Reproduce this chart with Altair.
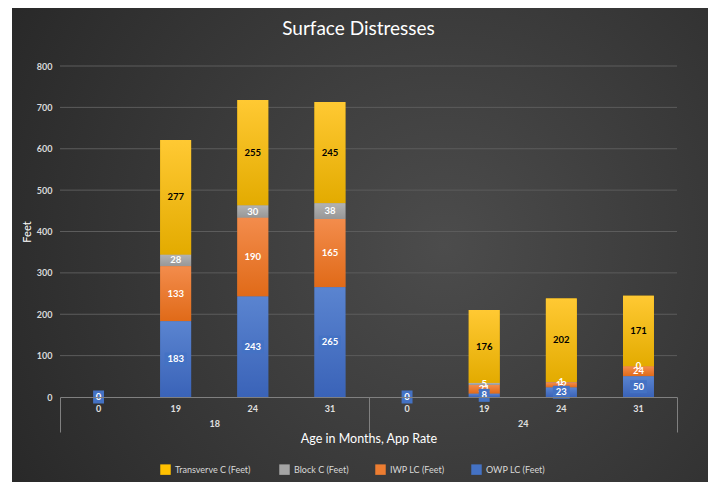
import altair as alt
import pandas as pd

ages = ["0", "19", "24", "31"]
rates = ["18", "24"]
series = ["Transverve  C (Feet)", "Block C (Feet)", "IWP LC (Feet)", "OWP LC (Feet)"]
colors = ["#FFC000", "#A5A5A5", "#ED7D31", "#4472C4"]
grad_top = ["#FFC933", "#B2B2B2", "#F38C4C", "#5A84D0"]
grad_bottom = ["#E3AB00", "#979797", "#E06A18", "#3A63B8"]
stack_order = [3, 2, 1, 0]
text_colors = ["#000000", "#ffffff", "#ffffff", "#ffffff"]
y_ticks = [0, 100, 200, 300, 400, 500, 600, 700, 800]

trans = {"18": [0, 277, 255, 245], "24": [0, 176, 202, 171]}
block = {"18": [0, 28, 30, 38], "24": [0, 5, 1, 0]}
iwp = {"18": [0, 133, 190, 165], "24": [0, 21, 12, 24]}
owp = {"18": [0, 183, 243, 265], "24": [0, 8, 23, 50]}
series_values = [trans, block, iwp, owp]

rows = []
for s, vals, o, tc in zip(series, series_values, stack_order, text_colors):
    for r in rates:
        for a, v in zip(ages, vals[r]):
            rows.append({"series": s, "rate": r, "age": a, "value": v,
                         "order": o, "tcolor": tc,
                         "digits": str(len(str(v)))})
df = pd.DataFrame(rows)

W, H = 617, 331
FONT = "Lato"

x_enc = alt.X("rate:N", sort=rates,
              scale=alt.Scale(paddingInner=0, paddingOuter=0),
              axis=alt.Axis(title="Age in Months, App Rate", labelAngle=0,
                            tickBand="extent", tickSize=35, tickColor="#808080",
                            domainColor="#808080", labelPadding=-13,
                            labelColor="#e0e0e0", labelFont=FONT,
                            labelFontWeight="bold", labelFontSize=9,
                            titleColor="#ffffff", titleFont=FONT,
                            titleFontSize=12.5, titleFontWeight="normal",
                            titleY=41, titleBaseline="middle", zindex=1))
xo_enc = alt.XOffset("age:N", sort=ages,
                     scale=alt.Scale(paddingInner=0.6, paddingOuter=0.3))
y_axis = alt.Axis(title="Feet", values=y_ticks, grid=False,
                  domain=False, ticks=False,
                  labelPadding=8, labelColor="#d9d9d9", labelFont=FONT,
                  labelFontWeight="bold", labelFontSize=9,
                  titleColor="#ffffff", titleFont=FONT, titleFontSize=11,
                  titleFontWeight="normal", titlePadding=4, zindex=1)
y_scale = alt.Scale(domain=[0, 800], nice=False)

base = alt.Chart(df).transform_stack(
    stack="value", as_=["v0", "v1"], groupby=["rate", "age"],
    sort=[alt.SortField("order", order="ascending")]
).transform_calculate(mid="(datum.v0 + datum.v1) / 2")

bg = alt.Chart(alt.Data(values=[{"a": 1}])).mark_rect(
    fill=alt.RadialGradient(
        gradient="radial", x1=0.62, y1=0.5, r1=0, x2=0.62, y2=0.5, r2=0.8,
        stops=[alt.GradientStop(offset=0, color="#4c4c4c"),
               alt.GradientStop(offset=1, color="#242424")])
).encode(x=alt.value(-48), x2=alt.value(W + 31),
         y=alt.value(-58), y2=alt.value(H + 85))

grid = alt.Chart(pd.DataFrame({"tick": y_ticks[1:]})).mark_rule(
    color="#5c5c5c", strokeWidth=1
).encode(y=alt.Y("tick:Q", scale=y_scale, axis=y_axis))

bars = base.mark_bar().encode(
    x=x_enc, xOffset=xo_enc,
    y=alt.Y("v1:Q", scale=y_scale, axis=y_axis),
    y2="v0:Q",
    color=alt.Color("series:N", scale=alt.Scale(domain=series, range=colors),
                    legend=alt.Legend(title=None, orient="none",
                                      direction="horizontal",
                                      legendX=100, legendY=398,
                                      symbolType="square", symbolSize=110,
                                      symbolStrokeWidth=0,
                                      labelColor="#d9d9d9", labelFont=FONT,
                                      labelFontSize=9, columnPadding=26)),
)

grad_layers = []
for s, top, bot in zip(series, grad_top, grad_bottom):
    grad_layers.append(
        base.transform_filter(alt.datum.series == s).mark_bar(
            fill=alt.LinearGradient(
                gradient="linear", x1=0, y1=0, x2=0, y2=1,
                stops=[alt.GradientStop(offset=0, color=top),
                       alt.GradientStop(offset=1, color=bot)])
        ).encode(
            x=x_enc, xOffset=xo_enc,
            y=alt.Y("v1:Q", scale=y_scale, axis=y_axis),
            y2="v0:Q",
        )
    )

others = base.transform_filter("datum.order > 0").mark_text(
    font=FONT, fontWeight="bold", fontSize=9.5, baseline="middle"
).encode(
    x=x_enc, xOffset=xo_enc,
    y=alt.Y("mid:Q", scale=y_scale, axis=y_axis),
    text="value:Q",
    color=alt.Color("tcolor:N", scale=None),
)

owp_box = base.transform_filter("datum.order == 0").mark_point(
    filled=True, opacity=1, size=676, color="#4472C4", strokeWidth=0
).encode(
    x=x_enc, xOffset=xo_enc,
    y=alt.Y("mid:Q", scale=y_scale, axis=y_axis),
    shape=alt.Shape("digits:N", scale=alt.Scale(
        domain=["1", "2", "3"],
        range=["M-0.42,-0.5L0.42,-0.5L0.42,0.5L-0.42,0.5Z",
               "M-0.65,-0.5L0.65,-0.5L0.65,0.5L-0.65,0.5Z",
               "M-0.85,-0.5L0.85,-0.5L0.85,0.5L-0.85,0.5Z"]), legend=None),
)

owp_text = base.transform_filter("datum.order == 0").mark_text(
    font=FONT, fontWeight="bold", fontSize=9.5, baseline="middle", color="#ffffff"
).encode(
    x=x_enc, xOffset=xo_enc,
    y=alt.Y("mid:Q", scale=y_scale, axis=y_axis),
    text="value:Q",
)

age_labels = alt.Chart(df).transform_filter("datum.order == 0").mark_text(
    font=FONT, fontWeight="bold", fontSize=9, color="#e0e0e0", baseline="middle"
).encode(
    x=x_enc, xOffset=xo_enc, y=alt.value(H + 12), text="age:N",
)

chart = alt.layer(bg, grid, bars, *grad_layers, others, owp_box, owp_text,
                  age_labels).properties(
    width=W, height=H,
    title=alt.TitleParams("Surface Distresses", fontSize=19, color="#ffffff",
                          font=FONT, fontWeight="normal", offset=0, dx=-10,
                          dy=31, frame="group", zindex=1),
    autosize=alt.AutoSizeParams(type="none"),
    padding={"left": 52, "top": 58, "right": 31, "bottom": 85},
    background="#ffffff",
).resolve_scale(shape="independent").configure_view(stroke=None)

chart.save("out.html", embed_options={"renderer": "svg", "actions": False})
